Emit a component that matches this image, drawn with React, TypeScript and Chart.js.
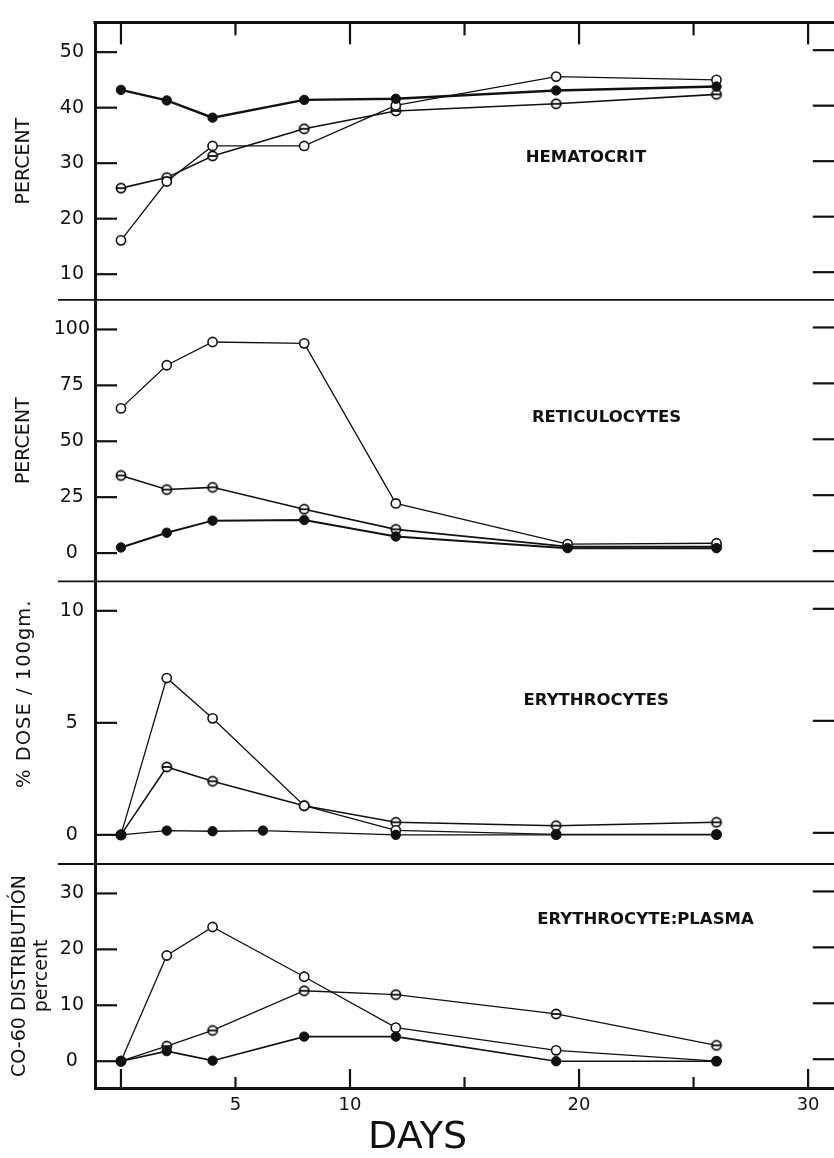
import React, { useEffect, useRef } from "react";
import { Chart, registerables } from "chart.js";

Chart.register(...registerables);

// ---------- data ----------
const DAYS = [0, 2, 4, 8, 12, 19, 26];
const RETIC_DAYS = [0, 2, 4, 8, 12, 19.5, 26];
const ERY_FILLED_DAYS = [0, 2, 4, 6.2, 12, 19, 26];

// Hematocrit (percent)
const hemFilled = [43.2, 41.3, 38.2, 41.4, 41.6, 43.1, 43.8];
const hemOpen = [16.1, 26.7, 33.1, 33.1, 40.4, 45.6, 45.0];
const hemBar = [25.5, 27.4, 31.3, 36.2, 39.4, 40.7, 42.4];

// Reticulocytes (percent)
const retFilled = [2.5, 9.1, 14.5, 14.8, 7.4, 2.2, 2.2];
const retOpen = [64.7, 84.0, 94.4, 93.8, 22.2, 4.0, 4.4];
const retBar = [34.7, 28.4, 29.4, 19.6, 10.6, 2.9, 2.9];

// Erythrocytes (% dose / 100 gm)
const eryFilled = [0, 0.19, 0.16, 0.19, 0, 0, 0];
const eryOpen = [0, 7.0, 5.2, 1.3, 0.2, 0.02, 0.02];
const eryBar = [0, 3.03, 2.39, 1.3, 0.56, 0.41, 0.56];

// Erythrocyte : plasma Co-60 distribution (percent)
const coFilled = [0, 1.8, 0.1, 4.4, 4.4, 0, 0];
const coOpen = [0, 18.9, 24.0, 15.1, 6.0, 1.95, 0];
const coBar = [0, 2.7, 5.5, 12.6, 11.9, 8.45, 2.84];

// ticks
const X_TICKS = [0, 5, 10, 15, 20, 25, 30];
const X_LABELED = [5, 10, 20, 30];
const HEM_TICKS = [10, 20, 30, 40, 50];
const RET_TICKS = [0, 25, 50, 75, 100];
const ERY_TICKS = [0, 5, 10];
const CO_TICKS = [0, 10, 20, 30];

const PANEL_TITLES = ["HEMATOCRIT", "RETICULOCYTES", "ERYTHROCYTES", "ERYTHROCYTE:PLASMA"];
const Y_TITLES = ["PERCENT", "PERCENT", "% DOSE / 100gm.", ["CO-60 DISTRIBUTIÓN", "percent"]];
const AXIS_TITLE = "DAYS";

// ---------- style ----------
const INK = "#111111";
const FONT = "'DejaVu Sans', 'Liberation Sans', sans-serif";

const toXY = (days: number[], vals: number[]) => days.map((d, i) => ({ x: d, y: vals[i] }));

function makeBarCircle(r: number, lw: number) {
  const size = 14;
  const c = document.createElement("canvas");
  c.width = size;
  c.height = size;
  const g = c.getContext("2d")!;
  const cx = size / 2;
  const cy = size / 2;
  g.beginPath();
  g.arc(cx, cy, r, 0, Math.PI * 2);
  g.fillStyle = "#ffffff";
  g.fill();
  g.lineWidth = lw;
  g.strokeStyle = "#000000";
  g.stroke();
  g.beginPath();
  g.moveTo(cx - r, cy);
  g.lineTo(cx + r, cy);
  g.stroke();
  return c;
}

const framePlugin = {
  id: "frame",
  afterDraw(chart: any, _args: any, opts: any) {
    const ctx = chart.ctx;
    const area = chart.chartArea;
    const xs = chart.scales.x;
    const panels: { id: string; ticks: number[] }[] = opts.panels;
    ctx.save();
    ctx.strokeStyle = INK;
    ctx.lineCap = "butt";
    const seg = (x1: number, y1: number, x2: number, y2: number) => {
      ctx.beginPath();
      ctx.moveTo(x1, y1);
      ctx.lineTo(x2, y2);
      ctx.stroke();
    };
    // top frame
    ctx.lineWidth = 3;
    seg(area.left - 1.5, area.top, area.right, area.top);
    // separators between panels
    ctx.lineWidth = 1.8;
    panels.forEach((p, i) => {
      if (i === panels.length - 1) return;
      const s = chart.scales[p.id];
      seg(opts.sepLeft, s.bottom, area.right, s.bottom);
    });
    // inward y ticks, left and right
    ctx.lineWidth = 2.2;
    panels.forEach((p) => {
      const s = chart.scales[p.id];
      p.ticks.forEach((v) => {
        const y = s.getPixelForValue(v);
        seg(area.left, y, area.left + 22, y);
        seg(area.right - 26, y - 2, area.right, y - 2);
      });
    });
    // inward x ticks, top and bottom
    X_TICKS.forEach((v) => {
      const x = xs.getPixelForValue(v);
      const major = v % 10 === 0;
      seg(x, area.top, x, area.top + (major ? 22 : 13));
      seg(x, area.bottom, x, area.bottom - (major ? 19 : 11));
    });
    // panel titles
    ctx.fillStyle = INK;
    ctx.textAlign = "center";
    ctx.textBaseline = "middle";
    ctx.font = `bold 16.5px ${FONT}`;
    opts.titles.forEach((t: any) => {
      const s = chart.scales[t.axis];
      ctx.fillText(t.text, xs.getPixelForValue(t.x), s.getPixelForValue(t.y));
    });
    // rotated axis title of the erythrocyte panel
    const rt = opts.rotatedTitle;
    const rs = chart.scales[rt.axis];
    ctx.save();
    ctx.translate(rt.px, rs.getPixelForValue(rt.y));
    ctx.rotate(-Math.PI / 2);
    ctx.font = `19.5px ${FONT}`;
    (ctx as any).letterSpacing = "1px";
    ctx.fillText(rt.text, 0, 0);
    ctx.restore();
    // x axis title
    ctx.font = `38px ${FONT}`;
    ctx.fillText(opts.xTitle.text, xs.getPixelForValue(opts.xTitle.x), area.bottom + opts.xTitle.dy);
    ctx.restore();
  },
};

function yAxis(
  min: number,
  max: number,
  ticks: number[],
  title: string | string[] | null,
  weight: number,
  stackWeight: number,
  tickPad: number,
  titlePad: number
) {
  return {
    type: "linear",
    position: "left",
    stack: "panels",
    stackWeight,
    weight,
    min,
    max,
    afterBuildTicks: (s: any) => {
      s.ticks = ticks.map((v) => ({ value: v }));
    },
    afterFit: (s: any) => {
      s.width = 95;
    },
    grid: { drawOnChartArea: false, drawTicks: false },
    border: { display: true, width: 3, color: INK },
    ticks: {
      crossAlign: "center",
      padding: tickPad,
      color: INK,
      font: { family: FONT, size: 19 },
    },
    title: {
      display: title !== null,
      text: title ?? "",
      color: INK,
      font: { family: FONT, size: 19, lineHeight: 1.15 },
      padding: { top: titlePad, bottom: 0 },
    },
  };
}

export default function App() {
  const ref = useRef<HTMLCanvasElement | null>(null);

  useEffect(() => {
    const canvas = ref.current;
    if (!canvas) return;
    const bar = makeBarCircle(4.6, 1.7);

    const filled = (days: number[], vals: number[], axis: string, w: number) => ({
      data: toXY(days, vals),
      yAxisID: axis,
      xAxisID: "x",
      borderColor: INK,
      borderWidth: w,
      backgroundColor: INK,
      pointStyle: "circle",
      pointRadius: 4.7,
      pointBorderWidth: 1,
      pointBackgroundColor: INK,
      pointBorderColor: INK,
      tension: 0,
      fill: false,
    });
    const open = (days: number[], vals: number[], axis: string, w: number) => ({
      data: toXY(days, vals),
      yAxisID: axis,
      xAxisID: "x",
      borderColor: INK,
      borderWidth: w,
      backgroundColor: "#ffffff",
      pointStyle: "circle",
      pointRadius: 4.6,
      pointBorderWidth: 1.6,
      pointBackgroundColor: "#ffffff",
      pointBorderColor: INK,
      tension: 0,
      fill: false,
    });
    const barred = (days: number[], vals: number[], axis: string, w: number) => ({
      data: toXY(days, vals),
      yAxisID: axis,
      xAxisID: "x",
      borderColor: INK,
      borderWidth: w,
      backgroundColor: "#ffffff",
      pointStyle: bar,
      pointRadius: 4.6,
      tension: 0,
      fill: false,
    });

    const chart = new Chart(canvas, {
      type: "line",
      data: {
        datasets: [
          filled(DAYS, hemFilled, "yHem", 2.4),
          open(DAYS, hemOpen, "yHem", 1.3),
          barred(DAYS, hemBar, "yHem", 1.6),
          filled(RETIC_DAYS, retFilled, "yRet", 2.0),
          open(RETIC_DAYS, retOpen, "yRet", 1.3),
          barred(RETIC_DAYS, retBar, "yRet", 1.6),
          filled(ERY_FILLED_DAYS, eryFilled, "yEry", 1.4),
          open(DAYS, eryOpen, "yEry", 1.3),
          barred(DAYS, eryBar, "yEry", 1.5),
          filled(DAYS, coFilled, "yCo", 1.6),
          open(DAYS, coOpen, "yCo", 1.3),
          barred(DAYS, coBar, "yCo", 1.3),
        ] as any,
      },
      options: {
        animation: false,
        responsive: false,
        events: [],
        layout: { padding: { top: 13, right: 5, left: 0, bottom: 0 } },
        plugins: {
          legend: { display: false },
          tooltip: { enabled: false },
          frame: {
            sepLeft: 58,
            panels: [
              { id: "yHem", ticks: HEM_TICKS },
              { id: "yRet", ticks: RET_TICKS },
              { id: "yEry", ticks: ERY_TICKS },
              { id: "yCo", ticks: CO_TICKS },
            ],
            titles: [
              { text: PANEL_TITLES[0], axis: "yHem", x: 20.3, y: 30.9 },
              { text: PANEL_TITLES[1], axis: "yRet", x: 21.2, y: 60.4 },
              { text: PANEL_TITLES[2], axis: "yEry", x: 20.75, y: 6.0 },
              { text: PANEL_TITLES[3], axis: "yCo", x: 22.9, y: 25.3 },
            ],
            rotatedTitle: { text: Y_TITLES[2], axis: "yEry", px: 25, y: 6.3 },
            xTitle: { text: AXIS_TITLE, x: 12.95, dy: 50 },
          },
        } as any,
        scales: {
          x: {
            type: "linear",
            position: "bottom",
            min: -1.133,
            max: 31.34,
            afterBuildTicks: (s: any) => {
              s.ticks = X_TICKS.map((v) => ({ value: v }));
            },
            afterFit: (s: any) => {
              s.height = 70;
            },
            grid: { drawOnChartArea: false, drawTicks: false },
            border: { display: true, width: 3, color: INK },
            ticks: {
              padding: 7,
              color: INK,
              autoSkip: false,
              maxRotation: 0,
              font: { family: FONT, size: 18 },
              callback: (v: any) => (X_LABELED.includes(Number(v)) ? String(v) : ""),
            },
          },
          yHem: yAxis(5.36, 55.36, HEM_TICKS, Y_TITLES[0] as string, 4, 280, 11, 13.5),
          yRet: yAxis(-12.7, 113.2, RET_TICKS, Y_TITLES[1] as string, 3, 284, 5, 13.5),
          yEry: yAxis(-1.3, 11.31, ERY_TICKS, null, 2, 285, 11, 13.5),
          yCo: yAxis(-4.79, 35.27, CO_TICKS, Y_TITLES[3] as string[], 1, 226, 11, 9),
        } as any,
      },
      plugins: [framePlugin as any],
    });
    return () => chart.destroy();
  }, []);

  return (
    <div
      style={{
        position: "absolute",
        left: 0,
        top: 0,
        width: 834,
        height: 1158,
        overflow: "hidden",
        background: "#ffffff",
      }}
    >
      <canvas ref={ref} width={845} height={1158} style={{ display: "block" }} />
    </div>
  );
}
